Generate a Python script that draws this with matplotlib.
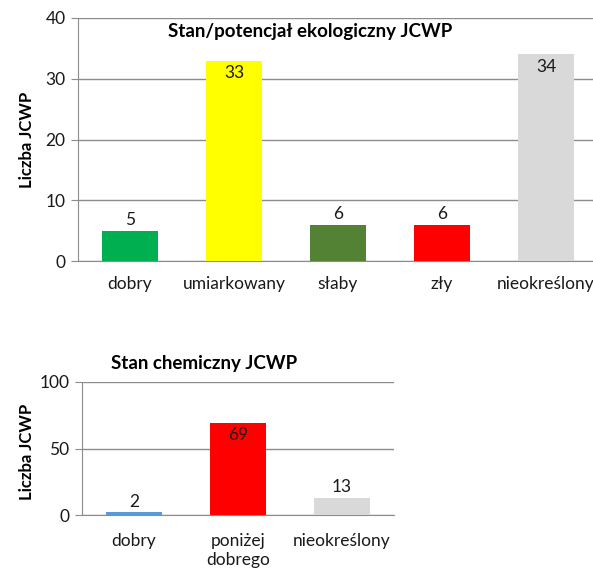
import matplotlib
matplotlib.use("Agg")
import matplotlib.pyplot as plt

# ecological status of water bodies
eco_categories = ["dobry", "umiarkowany", "słaby", "zły", "nieokreślony"]
eco_counts = [5, 33, 6, 6, 34]
eco_colors = ["#00B050", "#FFFF00", "#548235", "#FF0000", "#D9D9D9"]

# chemical status of water bodies
chem_categories = ["dobry", "poniżej\ndobrego", "nieokreślony"]
chem_counts = [2, 69, 13]
chem_colors = ["#5B9BD5", "#FF0000", "#D9D9D9"]

plt.rcParams["font.family"] = ["Lato", "DejaVu Sans"]
GRID = "#8C8C8C"
FS = 12.5

W, H = 593, 570
fig = plt.figure(figsize=(W / 100, H / 100), dpi=100)


def px_axes(left, top, right, bottom):
    return fig.add_axes([left / W, 1 - bottom / H, (right - left) / W, (bottom - top) / H])


def draw_bars(ax, cats, vals, colors, ymax, step, inside_frac):
    x = range(len(cats))
    ax.bar(x, vals, width=0.53, color=colors, zorder=3)
    ax.set_xlim(-0.5, len(cats) - 0.5)
    ax.set_ylim(0, ymax)
    ax.set_yticks(range(0, ymax + 1, step))
    ax.set_xticks(list(x))
    ax.set_xticklabels(cats, fontsize=FS, color="#1A1A1A")
    ax.tick_params(axis="x", length=0, pad=11)
    ax.tick_params(axis="y", length=5, color=GRID, labelsize=FS, labelcolor="#1A1A1A", pad=4)
    ax.yaxis.grid(True, color=GRID, linewidth=1)
    ax.set_axisbelow(True)
    for s in ["top", "right"]:
        ax.spines[s].set_visible(False)
    for s in ["left", "bottom"]:
        ax.spines[s].set_color(GRID)
    for i, v in enumerate(vals):
        if v > ymax * inside_frac:
            ax.annotate(str(v), (i, v), xytext=(0, -3), textcoords="offset points",
                        ha="center", va="top", fontsize=FS, color="#1A1A1A")
        else:
            ax.annotate(str(v), (i, v), xytext=(0, 2), textcoords="offset points",
                        ha="center", va="bottom", fontsize=FS, color="#1A1A1A")


ax1 = px_axes(78, 18, 598, 261)
draw_bars(ax1, eco_categories, eco_counts, eco_colors, 40, 10, 0.75)
fig.text(310 / W, 1 - 32 / H, "Stan/potencjał ekologiczny JCWP", ha="center", va="center",
         fontsize=13.5, fontweight="bold", color="#000000")
fig.text(27 / W, 1 - 140 / H, "Liczba JCWP", rotation=90, ha="center", va="center",
         fontsize=12, fontweight="bold")

ax2 = px_axes(82, 382, 394, 515)
draw_bars(ax2, chem_categories, chem_counts, chem_colors, 100, 50, 0.6)
ax2.tick_params(axis="x", pad=13)
for lbl in ax2.get_xticklabels():
    lbl.set_linespacing(1.2)
fig.text(204 / W, 1 - 364 / H, "Stan chemiczny JCWP", ha="center", va="center",
         fontsize=13.5, fontweight="bold", color="#000000")
fig.text(27 / W, 1 - 452 / H, "Liczba JCWP", rotation=90, ha="center", va="center",
         fontsize=12, fontweight="bold")

fig.savefig("out.png", dpi=100)
